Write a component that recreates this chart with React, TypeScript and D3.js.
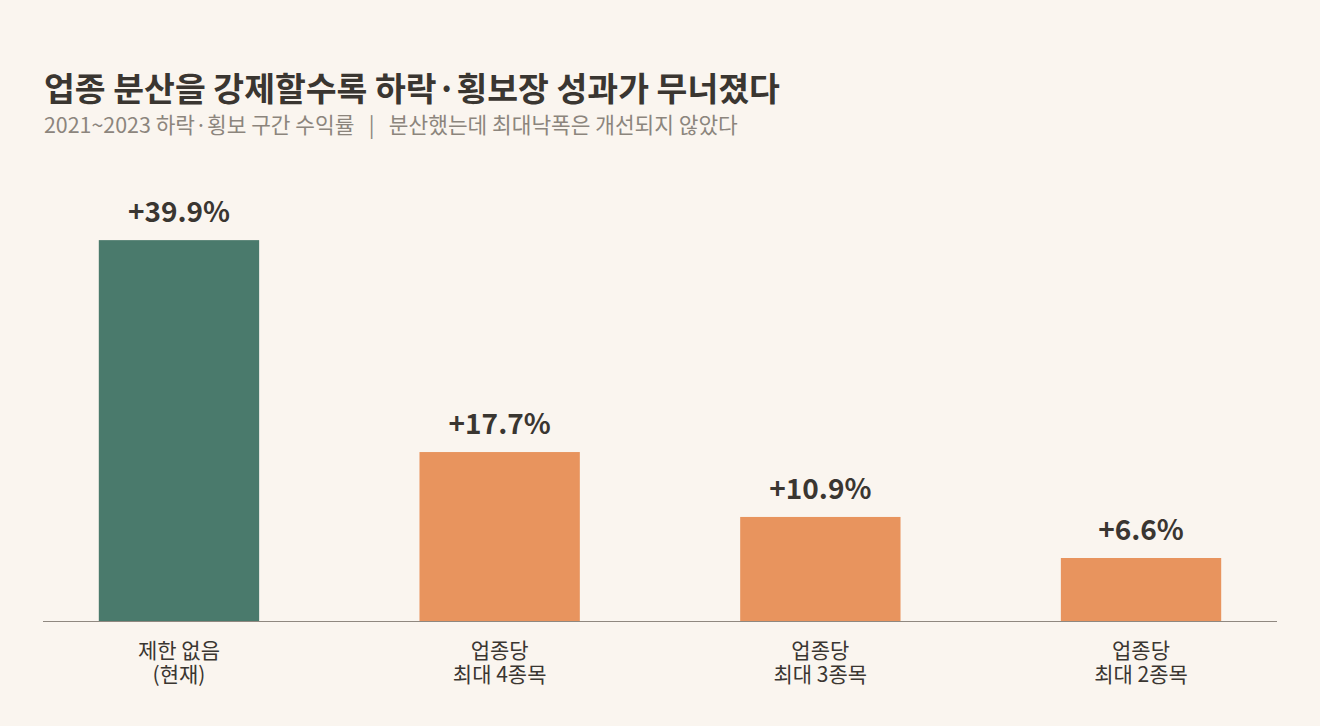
import React from "react";
import * as d3 from "d3";

const categories: string[][] = [
  ["제한 없음", "(현재)"],
  ["업종당", "최대 4종목"],
  ["업종당", "최대 3종목"],
  ["업종당", "최대 2종목"],
];
const values: number[] = [39.9, 17.7, 10.9, 6.6];
const valueLabels: string[] = ["+39.9%", "+17.7%", "+10.9%", "+6.6%"];
const barColors: string[] = ["#4a7a6c", "#e8945e", "#e8945e", "#e8945e"];

const title = "업종 분산을 강제할수록 하락·횡보장 성과가 무너졌다";
const subtitle = "2021~2023 하락·횡보 구간 수익률   |   분산했는데 최대낙폭은 개선되지 않았다";

const W = 1320;
const H = 726;
const FONT = "'Noto Sans CJK KR', 'Noto Sans', sans-serif";

export default function App() {
  const x = d3
    .scaleBand<number>()
    .domain(values.map((_, i) => i))
    .range([43, 1277])
    .paddingInner(0.5)
    .paddingOuter(0.174);
  const y = d3
    .scaleLinear()
    .domain([0, d3.max(values)! * 1.15])
    .range([621, 183]);

  return (
    <div style={{ position: "absolute", left: 0, top: 0, width: W, height: H }}>
      <svg width={W} height={H} style={{ display: "block", fontFamily: FONT }}>
        <rect width={W} height={H} fill="#faf5ef" />
        <text x={44} y={101} fontSize={33.5} fontWeight={700} fill="#3a3631">
          {title}
        </text>
        <text
          x={44}
          y={133}
          fontSize={21.4}
          fill="#8c857d"
          style={{ whiteSpace: "pre" }}
        >
          {subtitle}
        </text>
        {values.map((v, i) => {
          const cx = x(i)! + x.bandwidth() / 2;
          return (
            <g key={i}>
              <rect
                x={x(i)}
                y={y(v)}
                width={x.bandwidth()}
                height={y(0) - y(v)}
                fill={barColors[i]}
              />
              <text
                x={cx}
                y={y(v) - 18}
                textAnchor="middle"
                fontSize={28}
                fontWeight={700}
                fill="#3a3631"
              >
                {valueLabels[i]}
              </text>
              <text
                x={cx}
                y={658}
                textAnchor="middle"
                fontSize={21}
                fill="#3a3631"
              >
                {categories[i].map((line, j) => (
                  <tspan key={j} x={cx} dy={j === 0 ? 0 : 24}>
                    {line}
                  </tspan>
                ))}
              </text>
            </g>
          );
        })}
        <line x1={43} x2={1277} y1={621.5} y2={621.5} stroke="#8f8880" strokeWidth={1.2} />
      </svg>
    </div>
  );
}
